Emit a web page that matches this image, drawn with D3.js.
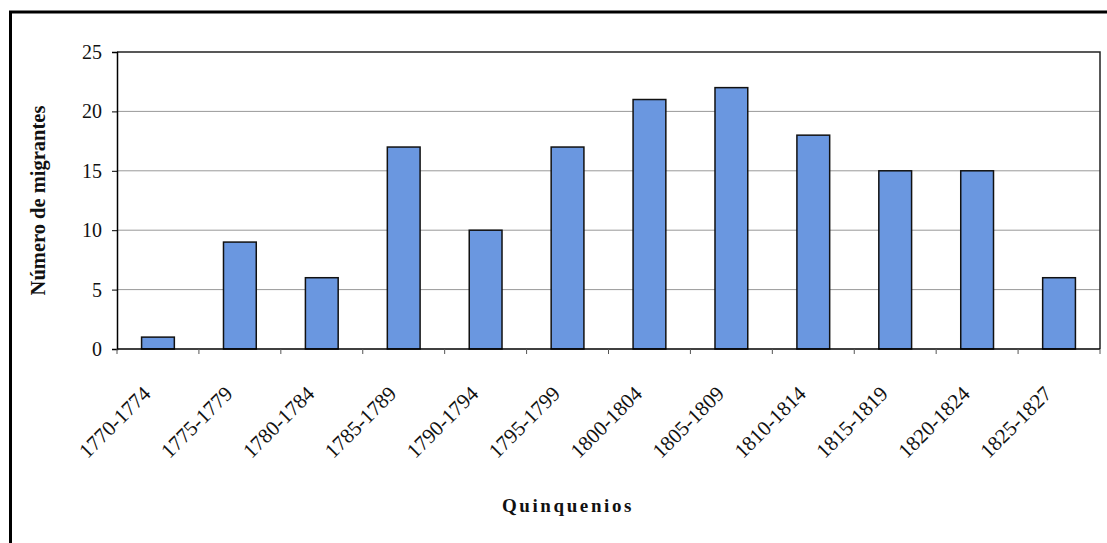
<!DOCTYPE html>
<html><head><meta charset="utf-8">
<script src="https://cdn.jsdelivr.net/npm/d3@7"></script>
<style>body{margin:0;background:#fff;} svg{display:block;} svg text{font-family:"Liberation Serif","Times New Roman",serif !important;}</style>
</head><body>
<script>
const categories = ["1770-1774","1775-1779","1780-1784","1785-1789","1790-1794","1795-1799","1800-1804","1805-1809","1810-1814","1815-1819","1820-1824","1825-1827"];
const values = [1, 9, 6, 17, 10, 17, 21, 22, 18, 15, 15, 6];
const yTicks = [0, 5, 10, 15, 20, 25];

const W = 1107, H = 543;
const FONT = "'Liberation Serif', 'Times New Roman', serif";
const m = {left:117, right:7, top:52, bottom:194};
const svg = d3.select("body").append("svg").attr("width", W).attr("height", H)
  .attr("font-family", FONT);

// outer frame
svg.append("rect").attr("x", 10.5).attr("y", 12).attr("width", 1110).attr("height", 545)
  .attr("fill", "none").attr("stroke", "#000").attr("stroke-width", 3);

const xb = d3.scaleBand().domain(categories).range([m.left, W - m.right]);
const y = d3.scaleLinear().domain([0, 25]).range([H - m.bottom, m.top]);

// gridlines
svg.append("g").selectAll("line").data(yTicks.filter(d => d > 0 && d < 25)).join("line")
  .attr("x1", m.left).attr("x2", W - m.right).attr("y1", d => y(d)).attr("y2", d => y(d))
  .attr("stroke", "#999").attr("stroke-width", 1);

// plot frame top/right
svg.append("path").attr("d", `M${m.left},${y(25)}H${W - m.right}V${y(0)}`)
  .attr("fill", "none").attr("stroke", "#222").attr("stroke-width", 1.5);

// bars
svg.append("g").selectAll("rect").data(values).join("rect")
  .attr("x", (d, i) => xb(categories[i]) + xb.bandwidth() * 0.3)
  .attr("width", xb.bandwidth() * 0.4)
  .attr("y", d => y(d)).attr("height", d => y(0) - y(d))
  .attr("fill", "#6a97e0").attr("stroke", "#111").attr("stroke-width", 1.5);

// y axis
const ya = svg.append("g").attr("transform", `translate(${m.left},0)`)
  .call(d3.axisLeft(y).tickValues(yTicks).tickSize(5).tickPadding(10));
ya.attr("font-family", FONT);
ya.select(".domain").attr("stroke", "#000").attr("stroke-width", 1.5);
ya.selectAll(".tick line").attr("stroke", "#000");
ya.selectAll("text").attr("font-size", 20).attr("fill", "#111").attr("font-family", FONT);

// x axis
const boundaries = categories.map(c => xb(c)).concat([W - m.right]);
svg.append("line").attr("x1", m.left).attr("x2", W - m.right).attr("y1", y(0)).attr("y2", y(0))
  .attr("stroke", "#000").attr("stroke-width", 1.5);
svg.append("g").selectAll("line").data(boundaries).join("line")
  .attr("x1", d => d).attr("x2", d => d).attr("y1", y(0)).attr("y2", y(0) + 5)
  .attr("stroke", "#555");
svg.append("g").selectAll("text").data(categories).join("text")
  .attr("transform", c => `translate(${xb(c) + xb.bandwidth()/2 - 6},${y(0) + 46}) rotate(-45)`)
  .attr("text-anchor", "end").attr("font-size", 21).attr("fill", "#111").attr("font-family", FONT)
  .text(c => c);

// titles
svg.append("text").attr("transform", `translate(45,${(y(0)+y(25))/2}) rotate(-90)`)
  .attr("text-anchor", "middle").attr("font-size", 20.5).attr("font-weight", "bold").attr("fill", "#111")
  .attr("font-family", FONT)
  .text("Número de migrantes");
svg.append("text").attr("x", 568).attr("y", 512).attr("text-anchor", "middle")
  .attr("font-size", 19).attr("font-weight", "bold").attr("letter-spacing", 2.6).attr("fill", "#111")
  .attr("font-family", FONT)
  .text("Quinquenios");
</script>
</body></html>
